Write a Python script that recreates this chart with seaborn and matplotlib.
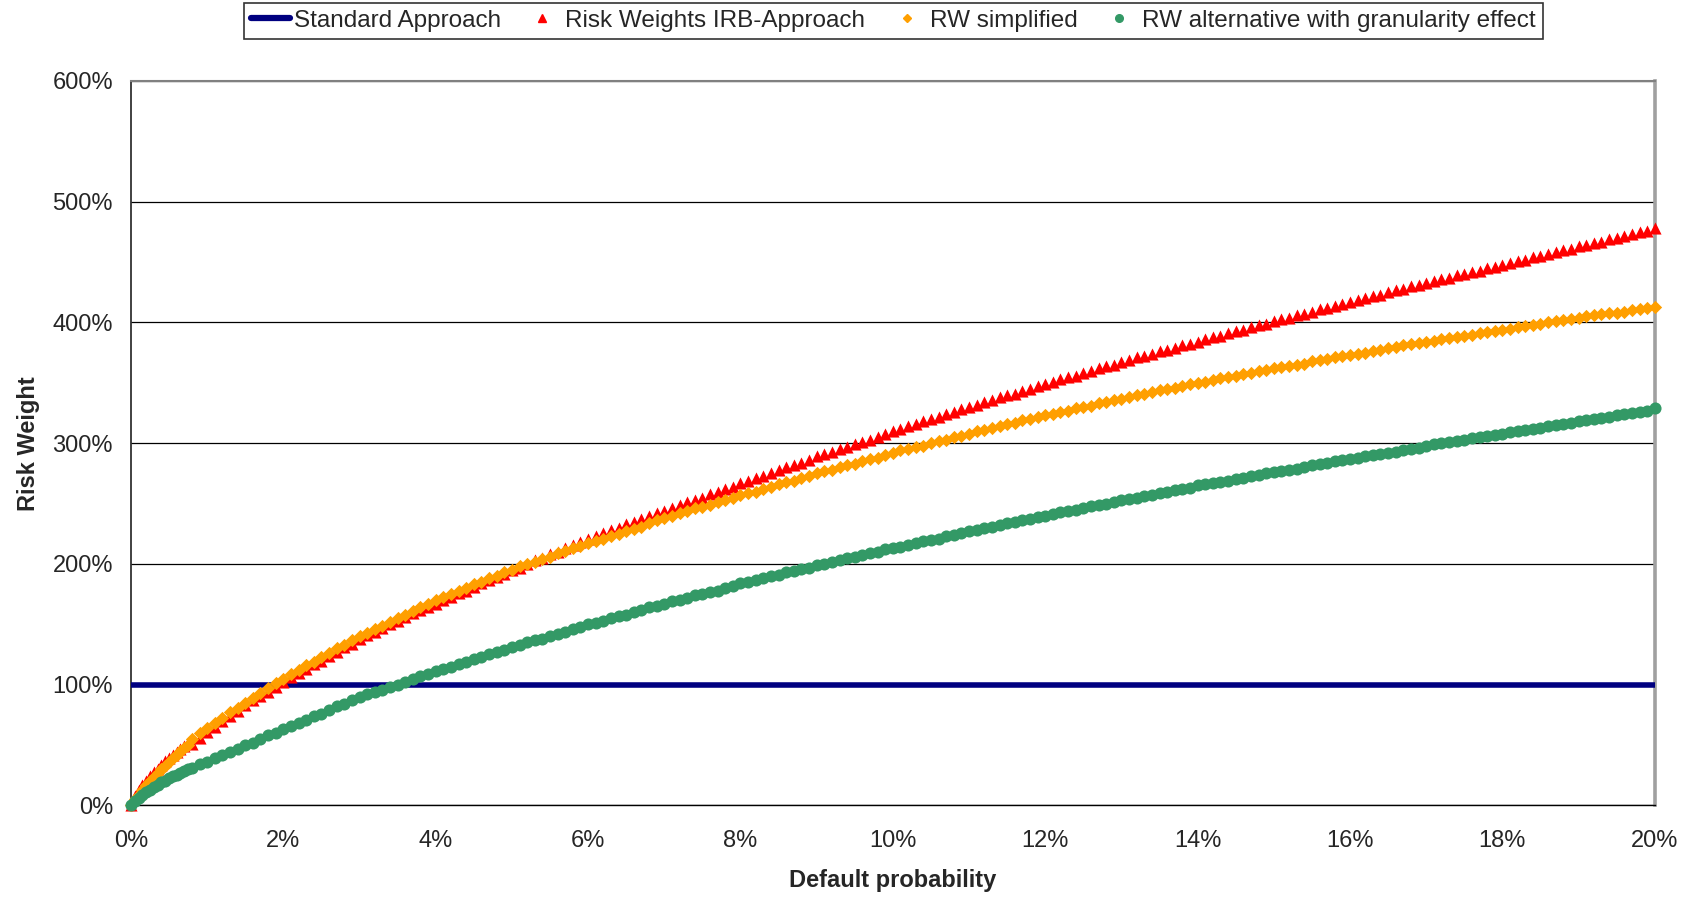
import matplotlib
matplotlib.use("Agg")
import matplotlib.pyplot as plt
import seaborn as sns
import pandas as pd
from matplotlib.lines import Line2D

# Default probability (%) of the markers: dense start, then 0.1% steps
pd_dense = [0.0, 0.05, 0.1, 0.15, 0.2, 0.25, 0.3, 0.35, 0.4, 0.45, 0.5, 0.55, 0.6, 0.65, 0.7, 0.75]
pd_sparse = [
    0.8, 0.9,
    1.0, 1.1, 1.2, 1.3, 1.4, 1.5, 1.6, 1.7, 1.8, 1.9,
    2.0, 2.1, 2.2, 2.3, 2.4, 2.5, 2.6, 2.7, 2.8, 2.9,
    3.0, 3.1, 3.2, 3.3, 3.4, 3.5, 3.6, 3.7, 3.8, 3.9,
    4.0, 4.1, 4.2, 4.3, 4.4, 4.5, 4.6, 4.7, 4.8, 4.9,
    5.0, 5.1, 5.2, 5.3, 5.4, 5.5, 5.6, 5.7, 5.8, 5.9,
    6.0, 6.1, 6.2, 6.3, 6.4, 6.5, 6.6, 6.7, 6.8, 6.9,
    7.0, 7.1, 7.2, 7.3, 7.4, 7.5, 7.6, 7.7, 7.8, 7.9,
    8.0, 8.1, 8.2, 8.3, 8.4, 8.5, 8.6, 8.7, 8.8, 8.9,
    9.0, 9.1, 9.2, 9.3, 9.4, 9.5, 9.6, 9.7, 9.8, 9.9,
    10.0, 10.1, 10.2, 10.3, 10.4, 10.5, 10.6, 10.7, 10.8, 10.9,
    11.0, 11.1, 11.2, 11.3, 11.4, 11.5, 11.6, 11.7, 11.8, 11.9,
    12.0, 12.1, 12.2, 12.3, 12.4, 12.5, 12.6, 12.7, 12.8, 12.9,
    13.0, 13.1, 13.2, 13.3, 13.4, 13.5, 13.6, 13.7, 13.8, 13.9,
    14.0, 14.1, 14.2, 14.3, 14.4, 14.5, 14.6, 14.7, 14.8, 14.9,
    15.0, 15.1, 15.2, 15.3, 15.4, 15.5, 15.6, 15.7, 15.8, 15.9,
    16.0, 16.1, 16.2, 16.3, 16.4, 16.5, 16.6, 16.7, 16.8, 16.9,
    17.0, 17.1, 17.2, 17.3, 17.4, 17.5, 17.6, 17.7, 17.8, 17.9,
    18.0, 18.1, 18.2, 18.3, 18.4, 18.5, 18.6, 18.7, 18.8, 18.9,
    19.0, 19.1, 19.2, 19.3, 19.4, 19.5, 19.6, 19.7, 19.8, 19.9,
    20.0,
]

# risk weights in %
irb_dense = [0, 8, 13, 17, 20.5, 24, 27.5, 30.5, 33.5, 36.5, 39.5, 42, 44.5, 47, 49.5, 51.5]
irb_sparse = [
    51, 56,
    61, 65, 70, 74, 78, 83, 87, 91, 94, 98,
    102, 106, 110, 113, 117, 120, 124, 127, 131, 134,
    138, 141, 144, 147, 150, 153, 156, 159, 162, 164,
    167, 170, 173, 176, 178, 181, 184, 187, 189, 192,
    195, 197, 200, 203, 205, 208, 210, 213, 216, 218,
    221, 223, 226, 228, 230, 233, 235, 237, 240, 242,
    244, 246, 249, 251, 253, 255, 258, 260, 262, 264,
    267, 269, 271, 273, 275, 278, 280, 282, 284, 286,
    289, 291, 293, 295, 297, 299, 301, 303, 305, 308,
    310, 312, 314, 316, 318, 320, 322, 324, 326, 328,
    330, 332, 334, 336, 338, 340, 341, 343, 345, 347,
    349, 351, 353, 355, 356, 358, 360, 362, 364, 365,
    367, 369, 371, 372, 374, 376, 377, 379, 381, 382,
    384, 386, 388, 389, 391, 393, 394, 396, 398, 399,
    401, 403, 404, 406, 407, 409, 411, 412, 414, 415,
    417, 419, 420, 422, 423, 425, 427, 428, 430, 431,
    433, 434, 436, 437, 439, 440, 442, 443, 445, 446,
    448, 449, 451, 452, 454, 455, 457, 458, 460, 461,
    463, 464, 466, 467, 469, 470, 472, 473, 475, 476,
    478,
]

simple_dense = [0, 5, 9, 13, 16.5, 20, 23.5, 27, 30, 33, 36, 39, 42, 45, 47.5, 50]
simple_sparse = [
    55, 60,
    64, 68, 72, 77, 81, 85, 89, 93, 97, 101,
    105, 109, 112, 116, 119, 123, 126, 130, 133, 137,
    140, 143, 146, 149, 152, 155, 158, 161, 164, 167,
    170, 173, 175, 178, 180, 183, 185, 188, 190, 193,
    195, 198, 200, 202, 204, 206, 209, 211, 213, 215,
    217, 219, 221, 223, 225, 227, 229, 231, 234, 236,
    238, 240, 242, 244, 246, 247, 249, 251, 253, 255,
    257, 259, 260, 262, 264, 266, 268, 269, 271, 273,
    275, 277, 278, 280, 282, 283, 285, 287, 288, 290,
    292, 294, 295, 297, 298, 300, 302, 303, 305, 306,
    308, 310, 311, 313, 314, 316, 317, 319, 320, 322,
    323, 324, 326, 327, 329, 330, 331, 333, 334, 336,
    337, 338, 340, 341, 342, 344, 345, 346, 347, 349,
    350, 351, 352, 354, 355, 356, 357, 358, 360, 361,
    362, 363, 364, 365, 366, 368, 369, 370, 371, 372,
    373, 374, 375, 376, 377, 379, 380, 381, 382, 383,
    384, 385, 386, 387, 388, 389, 390, 391, 392, 393,
    394, 395, 396, 397, 398, 399, 400, 401, 402, 403,
    404, 405, 406, 407, 408, 408, 409, 410, 411, 412,
    413,
]

gran_dense = [0, 4, 6.5, 9, 11, 13, 15, 17, 19, 20.5, 22.5, 24, 25.5, 27, 28.5, 30]
gran_sparse = [
    31, 34,
    36, 39, 42, 44, 47, 50, 52, 55, 58, 60,
    63, 66, 68, 71, 74, 76, 79, 82, 84, 87,
    90, 92, 94, 96, 98, 100, 102, 105, 107, 109,
    111, 113, 115, 117, 119, 121, 123, 125, 127, 129,
    131, 133, 135, 137, 138, 140, 142, 144, 146, 148,
    150, 151, 153, 155, 157, 158, 160, 162, 164, 165,
    167, 169, 170, 172, 174, 175, 177, 178, 180, 182,
    184, 185, 187, 188, 190, 191, 193, 194, 196, 197,
    199, 200, 202, 203, 205, 206, 207, 209, 210, 212,
    213, 214, 216, 217, 219, 220, 221, 223, 224, 226,
    227, 228, 230, 231, 232, 234, 235, 236, 237, 239,
    240, 241, 243, 244, 245, 246, 248, 249, 250, 251,
    253, 254, 255, 256, 257, 259, 260, 261, 262, 263,
    265, 266, 267, 268, 269, 270, 271, 273, 274, 275,
    276, 277, 278, 279, 280, 282, 283, 284, 285, 286,
    287, 288, 289, 290, 291, 292, 293, 294, 295, 296,
    298, 299, 300, 301, 302, 303, 304, 305, 306, 307,
    308, 309, 310, 311, 312, 313, 314, 315, 316, 317,
    318, 319, 320, 321, 322, 323, 324, 325, 326, 327,
    329,
]

# standard approach is flat at 100%
std_x = [0, 20]
std_y = [100, 100]

x_ticks = [0, 2, 4, 6, 8, 10, 12, 14, 16, 18, 20]
y_ticks = [0, 100, 200, 300, 400, 500, 600]

NAVY = "#000080"
RED = "#ff0000"
ORANGE = "#ff9f00"
GREEN = "#339966"

sns.set_style("white")
plt.rcParams["font.family"] = ["Liberation Sans", "DejaVu Sans"]

df = pd.DataFrame({
    "pd": pd_dense + pd_sparse,
    "irb": irb_dense + irb_sparse,
    "simple": simple_dense + simple_sparse,
    "gran": gran_dense + gran_sparse,
})

fig = plt.figure(figsize=(16.92, 8.98), dpi=100)
ax = fig.add_axes([0.0774, 0.1031, 0.9006, 0.8067])

sns.lineplot(x=std_x, y=std_y, color=NAVY, linewidth=4, ax=ax, zorder=3)
sns.scatterplot(data=df, x="pd", y="irb", marker="^", s=76, color=RED,
                linewidth=0, ax=ax, zorder=4, clip_on=False)
sns.scatterplot(data=df, x="pd", y="simple", marker="D", s=46, color=ORANGE,
                linewidth=0, ax=ax, zorder=5, clip_on=False)
sns.scatterplot(data=df, x="pd", y="gran", marker="o", s=76, color=GREEN,
                linewidth=0, ax=ax, zorder=6, clip_on=False)

ax.set_xlim(0, 20)
ax.set_ylim(0, 600)
ax.set_xticks(x_ticks)
ax.set_xticklabels([f"{t}%" for t in x_ticks])
ax.set_yticks(y_ticks)
ax.set_yticklabels([f"{t}%" for t in y_ticks])
ax.tick_params(axis="both", labelsize=17, length=6, width=1, color="black",
               direction="out")
ax.tick_params(axis="x", pad=12)
ax.tick_params(axis="y", pad=7)

# horizontal gridlines only
ax.yaxis.grid(True, color="black", linewidth=0.9)
ax.xaxis.grid(False)
ax.set_axisbelow(True)

ax.spines["left"].set_color("#333333")
ax.spines["left"].set_linewidth(1.3)
ax.spines["bottom"].set_color("black")
ax.spines["bottom"].set_linewidth(1.0)
ax.spines["top"].set_color("#808080")
ax.spines["top"].set_linewidth(1.5)
ax.spines["right"].set_color("#a0a0a0")
ax.spines["right"].set_linewidth(2.6)

ax.set_xlabel("Default probability", fontsize=17, fontweight="bold", labelpad=12)
ax.set_ylabel("Risk Weight", fontsize=17, fontweight="bold", labelpad=9)

handles = [
    Line2D([0], [0], color=NAVY, linewidth=4.5),
    Line2D([0], [0], color=RED, marker="^", linestyle="none", markersize=5.5),
    Line2D([0], [0], color=ORANGE, marker="D", linestyle="none", markersize=4.5),
    Line2D([0], [0], color=GREEN, marker="o", linestyle="none", markersize=5.5),
]
labels = ["Standard Approach", "Risk Weights IRB-Approach", "RW simplified",
          "RW alternative with granularity effect"]
leg = fig.legend(handles, labels, loc="upper center", bbox_to_anchor=(0.528, 0.997),
                 ncol=4, fontsize=17.5, frameon=True, fancybox=False,
                 edgecolor="black", handlelength=1.6, handletextpad=0.15,
                 columnspacing=0.9, borderpad=0.3, borderaxespad=0)
leg.get_frame().set_linewidth(1.2)

plt.savefig("out.png", dpi=100)
plt.close()
